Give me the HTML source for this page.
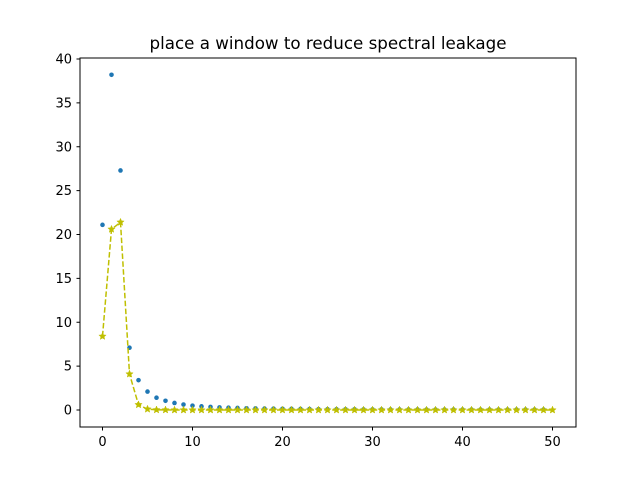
<!DOCTYPE html>
<html><head><meta charset="utf-8"><style>body{margin:0;background:#fff}svg{font-family:"DejaVu Sans","Liberation Sans",sans-serif}</style></head>
<body>
<svg id="chart" width="640" height="480" xmlns="http://www.w3.org/2000/svg">
<rect width="640" height="480" fill="#fff"/>
<text x="328" y="49" text-anchor="middle" font-size="16.7">place a window to reduce spectral leakage</text>
<g id="plot"></g>
<rect x="80" y="58" width="496" height="369" fill="none" stroke="#000" stroke-width="1"/>
</svg>
<script>
const blueValues=[21.1,38.2,27.3,7.1,3.4,2.1,1.4,1.05,0.8,0.62,0.5,0.42,0.35,0.3,0.26,0.23,0.2,0.18,0.16,0.15,0.14,0.13,0.12,0.11,0.1,0.09,0.09,0.08,0.08,0.07,0.07,0.07,0.06,0.06,0.06,0.06,0.05,0.05,0.05,0.05,0.05,0.05,0.05,0.05,0.05,0.05,0.05,0.05,0.05,0.05];
const windowedValues=[8.4,20.6,21.4,4.1,0.6,0.1,0.02,0.01,0,0,0,0,0,0,0,0,0,0,0,0,0,0,0,0,0,0,0,0,0,0,0,0,0,0,0,0,0,0,0,0,0,0,0,0,0,0,0,0,0,0,0];
const xTicks=[0,10,20,30,40,50];
const yTicks=[0,5,10,15,20,25,30,35,40];
const NS="http://www.w3.org/2000/svg";
const g=document.getElementById('plot');
const xS=v=>102.5+v*9;
const yS=v=>410-v*8.775;
function mk(t,a){const e=document.createElementNS(NS,t);for(const k in a)e.setAttribute(k,a[k]);g.appendChild(e);return e;}
xTicks.forEach(t=>{
  const l=mk('line',{x1:xS(t),x2:xS(t),y1:427,y2:430.5,stroke:'#000'});
  
  
  const tx=mk('text',{x:xS(t),y:446,'text-anchor':'middle','font-size':'13'});tx.textContent=t;
  
  
});
yTicks.forEach(t=>{
  const l=mk('line',{x1:76.5,x2:80,y1:yS(t),y2:yS(t),stroke:'#000'});
  
  
  const tx=mk('text',{x:72,y:yS(t)+4.5,'text-anchor':'end','font-size':'13'});tx.textContent=t;
  
  
});
blueValues.forEach((v,i)=>{
  const c=mk('circle',{cx:xS(i),cy:yS(v),r:2.3,fill:'#1f77b4'});
  
  
});
const pts=windowedValues.map((v,i)=>xS(i)+','+yS(v)).join(' ');
const pl=mk('polyline',{points:pts,fill:'none',stroke:'#bfbf00','stroke-width':1.5,'stroke-dasharray':'5.5,2.4'});


function star(cx,cy,r){let p=[];for(let k=0;k<10;k++){const a=-Math.PI/2+k*Math.PI/5;const rr=k%2?r*0.45:r;p.push((cx+rr*Math.cos(a)).toFixed(2)+','+(cy+rr*Math.sin(a)).toFixed(2));}return p.join(' ');}
windowedValues.forEach((v,i)=>{
  const s=mk('polygon',{points:star(xS(i),yS(v),3.8),fill:'#bfbf00',stroke:'#bfbf00','stroke-width':0.5});
  
  
});
</script>
</body></html>
